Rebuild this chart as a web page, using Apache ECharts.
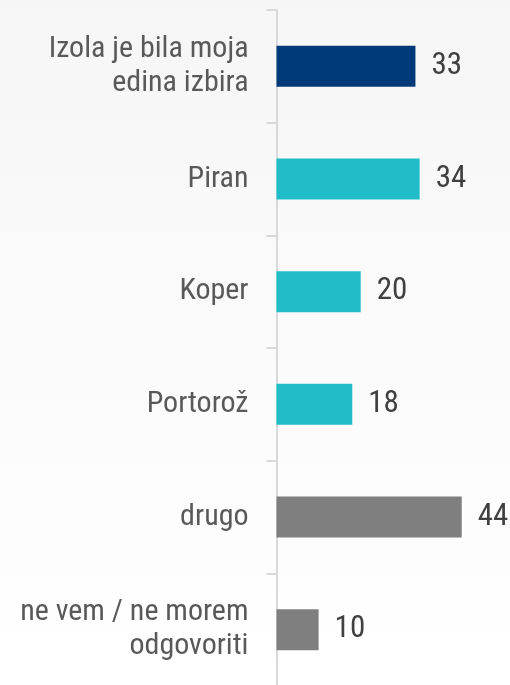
<!DOCTYPE html>
<html>
<head>
<meta charset="utf-8">
<script src="https://cdn.jsdelivr.net/npm/echarts@6/dist/echarts.min.js"></script>
<style>
  html, body { margin: 0; padding: 0; }
  #chart { width: 510px; height: 685px; }
</style>
</head>
<body>
<div id="chart"></div>
<script>
const categories = ['Izola je bila moja\nedina izbira', 'Piran', 'Koper', 'Portorož', 'drugo', 'ne vem / ne morem\nodgovoriti'];
const values = [33, 34, 20, 18, 44, 10];
const barColors = ['#003A78', '#20BDC8', '#20BDC8', '#20BDC8', '#7F7F7F', '#7F7F7F'];

const chart = echarts.init(document.getElementById('chart'));

const option = {
  backgroundColor: {
    type: 'linear', x: 0, y: 0, x2: 0, y2: 1,
    colorStops: [{ offset: 0, color: '#F6F6F6' }, { offset: 1, color: '#FFFFFF' }]
  },
  animation: false,
  grid: { left: 276.5, right: 23, top: 10, height: 676, outerBoundsMode: 'none', containLabel: false },
  xAxis: {
    type: 'value',
    min: 0,
    max: 50,
    show: false
  },
  yAxis: {
    type: 'category',
    inverse: true,
    data: categories,
    axisLine: { show: true, lineStyle: { color: '#D9D9D9', width: 2 } },
    axisTick: { show: true, length: 10, lineStyle: { color: '#D9D9D9', width: 2 } },
    axisLabel: {
      margin: 28,
      color: '#595959',
      fontFamily: "'Roboto Condensed'",
      fontSize: 30,
      lineHeight: 34
    },
    splitLine: { show: false }
  },
  series: [{
    type: 'bar',
    barWidth: 41,
    data: values.map((v, i) => ({ value: v, itemStyle: { color: barColors[i] } })),
    label: {
      show: true,
      position: 'right',
      distance: 16,
      color: '#404040',
      fontFamily: "'Roboto Condensed'",
      fontSize: 31
    }
  }]
};

chart.setOption(option);
</script>
</body>
</html>
